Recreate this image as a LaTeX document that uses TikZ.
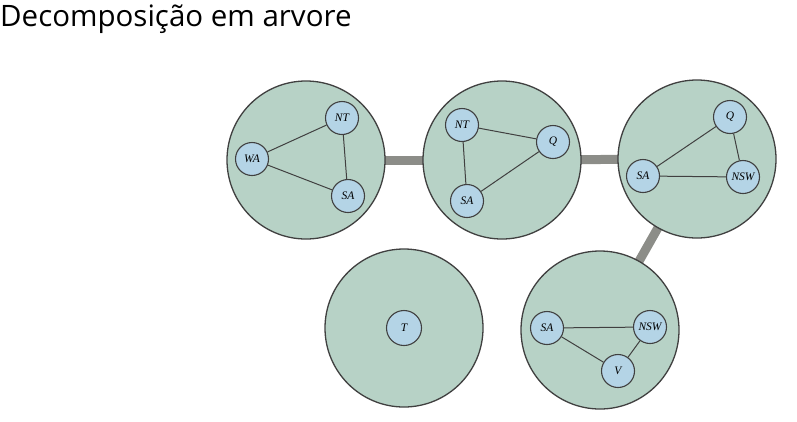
\documentclass[tikz,border=0pt]{standalone}
\usepackage{fontspec}
\setmainfont{Liberation Serif}
\newfontfamily\titlefont{Open Sans}
\usetikzlibrary{backgrounds}
\begin{document}
\begin{tikzpicture}[x=1pt,y=-1pt,
  bigc/.style={circle,draw=black!75,line width=1.3pt,fill=clusterfill,minimum size=158pt,inner sep=0pt},
  var/.style={circle,draw=black!75,line width=1.1pt,fill=varfill,minimum size=33pt,inner sep=0pt,font=\fontsize{11.5}{11.5}\selectfont\itshape},
  cedge/.style={draw=black!75,line width=1pt},
  tedge/.style={draw=linkgray,line width=9pt}]
\definecolor{clusterfill}{RGB}{183,210,198}
\definecolor{varfill}{RGB}{180,212,230}
\definecolor{linkgray}{RGB}{140,141,136}
\useasboundingbox (0,0) rectangle (797,421);
\node[anchor=base west,inner sep=0pt,font=\titlefont\fontsize{29.5}{32}\selectfont] (title) at (0,26) {Decomposição em arvore};
% clusters
\node[bigc] (c1) at (306,160) {};
\node[bigc] (c2) at (502,160) {};
\node[bigc] (c3) at (697,159) {};
\node[bigc] (c4) at (404,328) {};
\node[bigc] (c5) at (600,330) {};
% tree links (behind)
\begin{scope}[on background layer]
\draw[tedge] (c1.center) -- (c2.center);
\draw[tedge] (c2.center) -- (c3.center);
\draw[tedge] (c3.center) -- (c5.center);
\end{scope}
% cluster 1
\node[var] (wa1) at (252,159) {WA};
\node[var] (nt1) at (342,118) {NT};
\node[var] (sa1) at (348,196) {SA};
\draw[cedge] (wa1) -- (nt1) (nt1) -- (sa1) (wa1) -- (sa1);
% cluster 2
\node[var] (nt2) at (462,125) {NT};
\node[var] (q2) at (553,142) {Q};
\node[var] (sa2) at (467,201) {SA};
\draw[cedge] (nt2) -- (q2) (nt2) -- (sa2) (sa2) -- (q2);
% cluster 3
\node[var] (q3) at (730,117) {Q};
\node[var] (sa3) at (643,176) {SA};
\node[var] (nsw3) at (743,177) {NSW};
\draw[cedge] (sa3) -- (q3) (q3) -- (nsw3) (sa3) -- (nsw3);
% cluster 4
\node[var,minimum size=35pt] (t4) at (404,328) {T};
% cluster 5
\node[var] (sa5) at (547,328) {SA};
\node[var] (nsw5) at (650,327) {NSW};
\node[var] (v5) at (618,371) {V};
\draw[cedge] (sa5) -- (nsw5) (sa5) -- (v5) (v5) -- (nsw5);
\end{tikzpicture}
\end{document}
